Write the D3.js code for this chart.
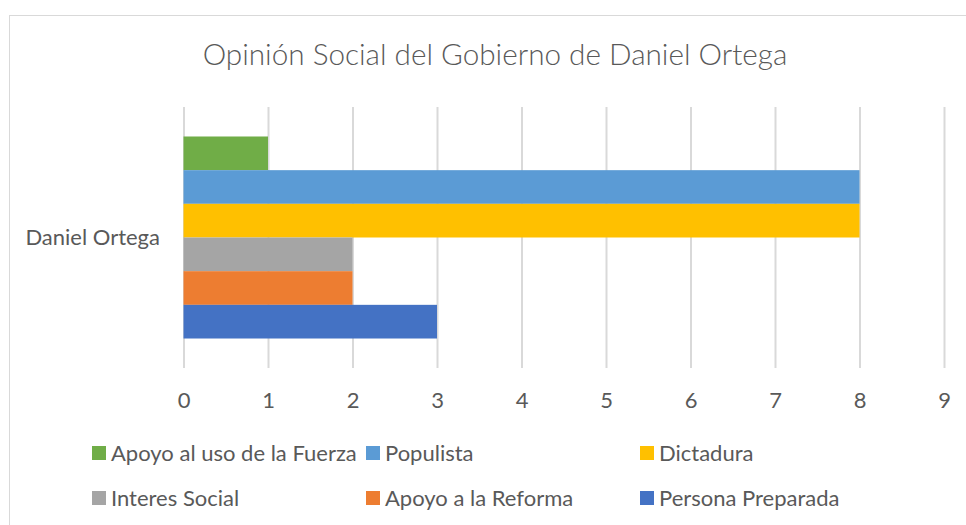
<!DOCTYPE html>
<html><head><meta charset="utf-8">
<script src="https://cdn.jsdelivr.net/npm/d3@7"></script>
<style>
html,body{margin:0;padding:0;background:#fff;}
svg{display:block;}
text{font-family:Lato,"Open Sans",sans-serif;fill:#595959;}
</style></head>
<body>
<svg id="chart" width="966" height="525"></svg>
<script>
const title = "Opinión Social del Gobierno de Daniel Ortega";
const categories = ["Daniel Ortega"];
const seriesNames = ["Apoyo al uso de la Fuerza","Populista","Dictadura","Interes Social","Apoyo a la Reforma","Persona Preparada"];
const seriesValues = [1, 8, 8, 2, 2, 3];
const seriesColors = ["#70AD47","#5B9BD5","#FFC000","#A5A5A5","#ED7D31","#4472C4"];
const tickValues = [0,1,2,3,4,5,6,7,8,9];

const svg = d3.select("#chart");
svg.append("rect").attr("x",9.5).attr("y",15.5).attr("width",1000).attr("height",600)
  .attr("fill","#fff").attr("stroke","#D9D9D9").attr("stroke-width",1);

const m = {left:183.5, right:944, top:107, bottom:368};
const x = d3.scaleLinear().domain([0,9]).range([m.left,m.right]);
const y0 = d3.scaleBand().domain(categories).range([m.top,m.bottom]).paddingInner(0).paddingOuter(0.146);
const y1 = d3.scaleBand().domain(seriesNames).range([0,y0.bandwidth()]).padding(0);

// gridlines
const grid = svg.append("g").attr("transform",`translate(0,${m.bottom})`)
  .call(d3.axisBottom(x).tickValues(tickValues).tickSize(-(m.bottom-m.top)).tickFormat(""));
grid.select(".domain").remove();
grid.selectAll("line").attr("stroke","#D9D9D9").attr("stroke-width",2);

// bars
const cat = svg.append("g").selectAll("g").data(categories).join("g")
  .attr("transform",d=>`translate(0,${y0(d)})`);
cat.selectAll("rect").data(seriesNames.map((s,i)=>({s,v:seriesValues[i],c:seriesColors[i]})))
  .join("rect")
  .attr("x",x(0)).attr("y",d=>y1(d.s))
  .attr("width",d=>x(d.v)-x(0)).attr("height",y1.bandwidth())
  .attr("fill",d=>d.c);

// x axis labels
const ax = svg.append("g").attr("transform",`translate(0,${m.bottom})`)
  .call(d3.axisBottom(x).tickValues(tickValues).tickSize(0).tickPadding(24).tickFormat(d3.format("d")));
ax.select(".domain").remove();
ax.selectAll("text").style("font-size","22px").attr("fill","#595959").attr("font-family","Lato");

// category label
svg.append("g").selectAll("text").data(categories).join("text")
  .attr("x",160).attr("y",d=>y0(d)+y0.bandwidth()/2).attr("dy","0.35em")
  .attr("text-anchor","end").style("font-size","22px").text(d=>d);

// title
svg.append("text").attr("x",495).attr("y",55).attr("dy","0.35em").attr("text-anchor","middle")
  .style("font-size","29.7px").style("font-weight","300").text(title);

// legend
const cols = [92,366,640], rows = [453,498];
const lg = svg.append("g").selectAll("g").data(seriesNames).join("g")
  .attr("transform",(d,i)=>`translate(${cols[i%3]},${rows[Math.floor(i/3)]})`);
lg.append("rect").attr("x",0).attr("y",-7).attr("width",14).attr("height",14)
  .attr("fill",(d,i)=>seriesColors[i]);
lg.append("text").attr("x",19).attr("y",0).attr("dy","0.35em").style("font-size","22px").text(d=>d);
</script>
</body></html>
